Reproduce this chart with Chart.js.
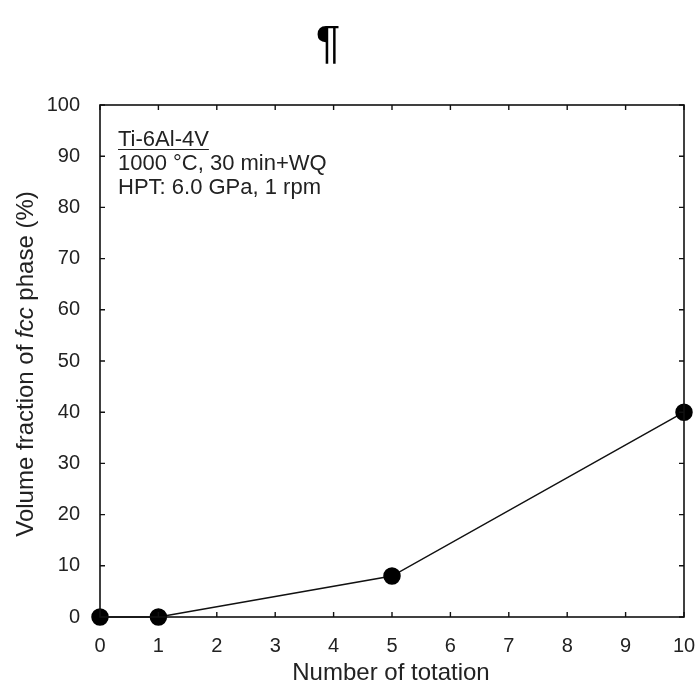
<!DOCTYPE html>
<html>
<head>
<meta charset="utf-8">
<script src="https://cdn.jsdelivr.net/npm/chart.js@4/dist/chart.umd.min.js"></script>
<style>
  html, body { margin: 0; padding: 0; background: #fff; }
  #wrap { width: 697px; height: 688px; }
</style>
</head>
<body>
<div id="wrap"><canvas id="fcc-chart" width="697" height="688"></canvas></div>
<script>
const rotations = [0, 1, 5, 10];
const fccFraction = [0, 0, 8, 40];
const xTicks = [0, 1, 2, 3, 4, 5, 6, 7, 8, 9, 10];
const yTicks = [0, 10, 20, 30, 40, 50, 60, 70, 80, 90, 100];
const noteLines = ['Ti-6Al-4V', '1000 °C, 30 min+WQ', 'HPT: 6.0 GPa, 1 rpm'];

const FONT = '"Liberation Sans", Arial, sans-serif';
const TEXT = '#222';

// frame, inward ticks, titles and the note in the corner
const decorations = {
  id: 'decorations',
  afterDraw(chart) {
    const { ctx, chartArea: a, scales } = chart;
    const x = scales.x, y = scales.y;
    ctx.save();
    ctx.strokeStyle = '#111';
    ctx.lineWidth = 1.6;
    ctx.strokeRect(a.left, a.top, a.right - a.left, a.bottom - a.top);

    ctx.lineWidth = 1.4;
    ctx.beginPath();
    xTicks.forEach(v => {
      const px = x.getPixelForValue(v);
      ctx.moveTo(px, a.bottom); ctx.lineTo(px, a.bottom - 5);
      ctx.moveTo(px, a.top); ctx.lineTo(px, a.top + 5);
    });
    yTicks.forEach(v => {
      const py = y.getPixelForValue(v);
      ctx.moveTo(a.left, py); ctx.lineTo(a.left + 5, py);
      ctx.moveTo(a.right, py); ctx.lineTo(a.right - 5, py);
    });
    ctx.stroke();

    // x title
    ctx.fillStyle = TEXT;
    ctx.font = '24px ' + FONT;
    ctx.textAlign = 'center';
    ctx.textBaseline = 'middle';
    ctx.fillText('Number of totation', 391, 673);

    // y title with italic "fcc"
    const parts = [
      ['Volume fraction of ', '24px ' + FONT],
      ['fcc', 'italic 24px ' + FONT],
      [' phase (%)', '24px ' + FONT]
    ];
    let total = 0;
    parts.forEach(p => { ctx.font = p[1]; total += ctx.measureText(p[0]).width; });
    ctx.translate(26, 364);
    ctx.rotate(-Math.PI / 2);
    ctx.textAlign = 'left';
    let cx = -total / 2;
    parts.forEach(p => {
      ctx.font = p[1];
      ctx.fillText(p[0], cx, 0);
      cx += ctx.measureText(p[0]).width;
    });
    ctx.setTransform(1, 0, 0, 1, 0, 0);

    // note
    ctx.font = '22px ' + FONT;
    ctx.textAlign = 'left';
    ctx.textBaseline = 'middle';
    const noteY = [140, 164, 188];
    noteLines.forEach((t, i) => ctx.fillText(t, 118, noteY[i]));
    const w = ctx.measureText(noteLines[0]).width;
    ctx.lineWidth = 1.2;
    ctx.strokeStyle = TEXT;
    ctx.beginPath();
    ctx.moveTo(118, 149.5); ctx.lineTo(118 + w, 149.5);
    ctx.stroke();

    // pilcrow above the plot
    ctx.fillStyle = '#000';
    ctx.font = '46px ' + FONT;
    ctx.textAlign = 'center';
    ctx.textBaseline = 'alphabetic';
    ctx.fillText('¶', 328, 58);
    ctx.restore();
  }
};

new Chart(document.getElementById('fcc-chart'), {
  type: 'scatter',
  data: {
    datasets: [{
      data: rotations.map((r, i) => ({ x: r, y: fccFraction[i] })),
      showLine: true,
      borderColor: '#111',
      borderWidth: 1.5,
      backgroundColor: '#000',
      pointBackgroundColor: '#000',
      pointBorderColor: '#000',
      pointRadius: 8,
      pointHoverRadius: 8,
      clip: false
    }]
  },
  options: {
    responsive: false,
    animation: false,
    events: [],
    layout: { padding: { top: 105, right: 13, left: 0, bottom: 0 } },
    plugins: { legend: { display: false }, tooltip: { enabled: false } },
    scales: {
      x: {
        type: 'linear',
        min: 0, max: 10,
        grid: { display: false, drawTicks: false },
        border: { display: false },
        afterBuildTicks: s => { s.ticks = xTicks.map(v => ({ value: v })); },
        afterFit: s => { s.height = 71; s.paddingLeft = 0; s.paddingRight = 0; },
        ticks: { color: TEXT, padding: 17, maxRotation: 0, font: { family: FONT, size: 20 } }
      },
      y: {
        min: 0, max: 100,
        grid: { display: false, drawTicks: false },
        border: { display: false },
        afterBuildTicks: s => { s.ticks = yTicks.map(v => ({ value: v })); },
        afterFit: s => { s.width = 100; s.paddingTop = 0; s.paddingBottom = 0; },
        ticks: { color: TEXT, padding: 20, font: { family: FONT, size: 20 } }
      }
    }
  },
  plugins: [decorations]
});
</script>
</body>
</html>
